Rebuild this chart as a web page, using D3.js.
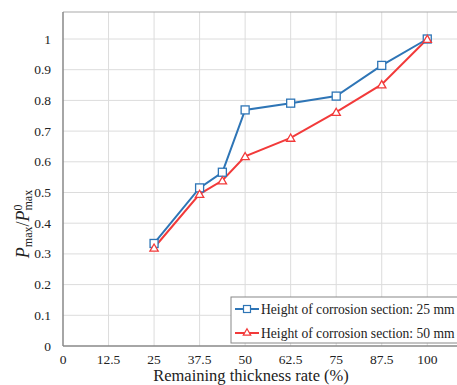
<!DOCTYPE html>
<meta charset="utf-8">
<head>
    <style>
     body { margin: 0; background: #fff; }
    </style>
</head>
<body>
    <div id="chart"></div>
</body>
<script src="https://d3js.org/d3.v7.min.js"></script>
<script>
 // data
 var thickness = [25, 37.5, 43.75, 50, 62.5, 75, 87.5, 100];
 var h25 = [0.334, 0.515, 0.566, 0.769, 0.791, 0.814, 0.914, 1.0];
 var h50 = [0.320, 0.495, 0.539, 0.618, 0.678, 0.762, 0.852, 1.0];
 var xTicks = [0, 12.5, 25, 37.5, 50, 62.5, 75, 87.5, 100];
 var yTicks = [0, 0.1, 0.2, 0.3, 0.4, 0.5, 0.6, 0.7, 0.8, 0.9, 1];
 var seriesNames = ["Height of corrosion section: 25 mm", "Height of corrosion section: 50 mm"];

 var width = 457, height = 385;
 var blue = "#2e75b6", red = "#f23a3a";
 var serif = "'Liberation Serif', 'Times New Roman', Times, serif";

 var svg = d3.select("#chart").append("svg")
             .attr("width", width)
             .attr("height", height)
             .attr("font-family", serif)
             .style("font-family", serif);

 var x = d3.scaleLinear().domain([0, 112.5]).range([63, 472.8]);
 var y = d3.scaleLinear().domain([0, 1]).range([346, 39]);

 // grid
 svg.append("g").selectAll("line.v")
    .data(xTicks.concat([112.5]).filter(d => d > 0))
    .join("line")
    .attr("x1", d => x(d)).attr("x2", d => x(d))
    .attr("y1", 12).attr("y2", 346)
    .attr("stroke", "#dcdcdc").attr("stroke-width", 1);
 svg.append("g").selectAll("line.h")
    .data(yTicks.filter(d => d > 0))
    .join("line")
    .attr("x1", 63).attr("x2", width)
    .attr("y1", d => y(d)).attr("y2", d => y(d))
    .attr("stroke", "#dcdcdc").attr("stroke-width", 1);

 // frame
 svg.append("line").attr("x1", 63).attr("x2", width).attr("y1", 12).attr("y2", 12)
    .attr("stroke", "#aaa").attr("stroke-width", 1.2);
 svg.append("line").attr("x1", 63).attr("x2", 63).attr("y1", 12).attr("y2", 346)
    .attr("stroke", "#888").attr("stroke-width", 1.5);
 svg.append("line").attr("x1", 63).attr("x2", width).attr("y1", 346).attr("y2", 346)
    .attr("stroke", "#888").attr("stroke-width", 1.5);

 // tick labels
 svg.append("g").selectAll("text")
    .data(yTicks)
    .join("text")
    .attr("x", 51).attr("y", d => y(d) + 4.5)
    .attr("text-anchor", "end")
    .attr("font-size", 13.5)
    .attr("fill", "#222")
    .text(d => d);
 svg.append("g").selectAll("text")
    .data(xTicks)
    .join("text")
    .attr("x", d => x(d)).attr("y", 363.5)
    .attr("text-anchor", "middle")
    .attr("font-size", 13.5)
    .attr("fill", "#222")
    .text(d => d);

 // axis titles
 svg.append("text")
    .attr("x", 251).attr("y", 381.3)
    .attr("text-anchor", "middle")
    .attr("font-size", 16.5)
    .attr("fill", "#222")
    .text("Remaining thickness rate (%)");

 var yt = svg.append("text")
             .attr("transform", "translate(29,224) rotate(-90)")
             .attr("text-anchor", "middle")
             .attr("font-size", 18)
             .attr("fill", "#222");
 yt.append("tspan").attr("font-style", "italic").text("P");
 yt.append("tspan").attr("font-size", 12).attr("dy", 3).text("max");
 yt.append("tspan").attr("dy", -3).text("/");
 yt.append("tspan").attr("font-style", "italic").text("P");
 yt.append("tspan").attr("font-size", 12).attr("dy", -7).text("0");
 yt.append("tspan").attr("font-size", 12).attr("dx", -6).attr("dy", 10).text("max");

 // series
 var line = d3.line().x((d, i) => x(thickness[i])).y(d => y(d));
 var tri = d3.symbol().type(d3.symbolTriangle).size(30);

 svg.append("path").datum(h50)
    .attr("d", line).attr("fill", "none")
    .attr("stroke", red).attr("stroke-width", 2);
 svg.append("path").datum(h25)
    .attr("d", line).attr("fill", "none")
    .attr("stroke", blue).attr("stroke-width", 2);

 svg.append("g").selectAll("rect")
    .data(h25)
    .join("rect")
    .attr("x", (d, i) => x(thickness[i]) - 4)
    .attr("y", d => y(d) - 4)
    .attr("width", 8).attr("height", 8)
    .attr("fill", "#fff").attr("stroke", blue).attr("stroke-width", 1.3);
 svg.append("g").selectAll("path")
    .data(h50)
    .join("path")
    .attr("d", tri)
    .attr("transform", (d, i) => `translate(${x(thickness[i])},${y(d) + 1})`)
    .attr("fill", "#fff").attr("stroke", red).attr("stroke-width", 1.3);

 // legend
 var lg = svg.append("g");
 lg.append("rect")
   .attr("x", 231).attr("y", 297).attr("width", 240).attr("height", 46)
   .attr("fill", "#fff").attr("stroke", "#888").attr("stroke-width", 1);
 var rows = [{name: seriesNames[0], color: blue, sq: true, yy: 309},
             {name: seriesNames[1], color: red, sq: false, yy: 333}];
 rows.forEach(function(r) {
     lg.append("line").attr("x1", 235).attr("x2", 259).attr("y1", r.yy).attr("y2", r.yy)
       .attr("stroke", r.color).attr("stroke-width", 2);
     if (r.sq) {
         lg.append("rect").attr("x", 243.5).attr("y", r.yy - 3.5).attr("width", 7).attr("height", 7)
           .attr("fill", "#fff").attr("stroke", r.color).attr("stroke-width", 1.2);
     } else {
         lg.append("path").attr("d", d3.symbol().type(d3.symbolTriangle).size(24))
           .attr("transform", `translate(247,${r.yy})`)
           .attr("fill", "#fff").attr("stroke", r.color).attr("stroke-width", 1.2);
     }
     lg.append("text").attr("x", 261).attr("y", r.yy + 4.5)
       .attr("font-size", 13.6).attr("fill", "#222").text(r.name);
 });
</script>
